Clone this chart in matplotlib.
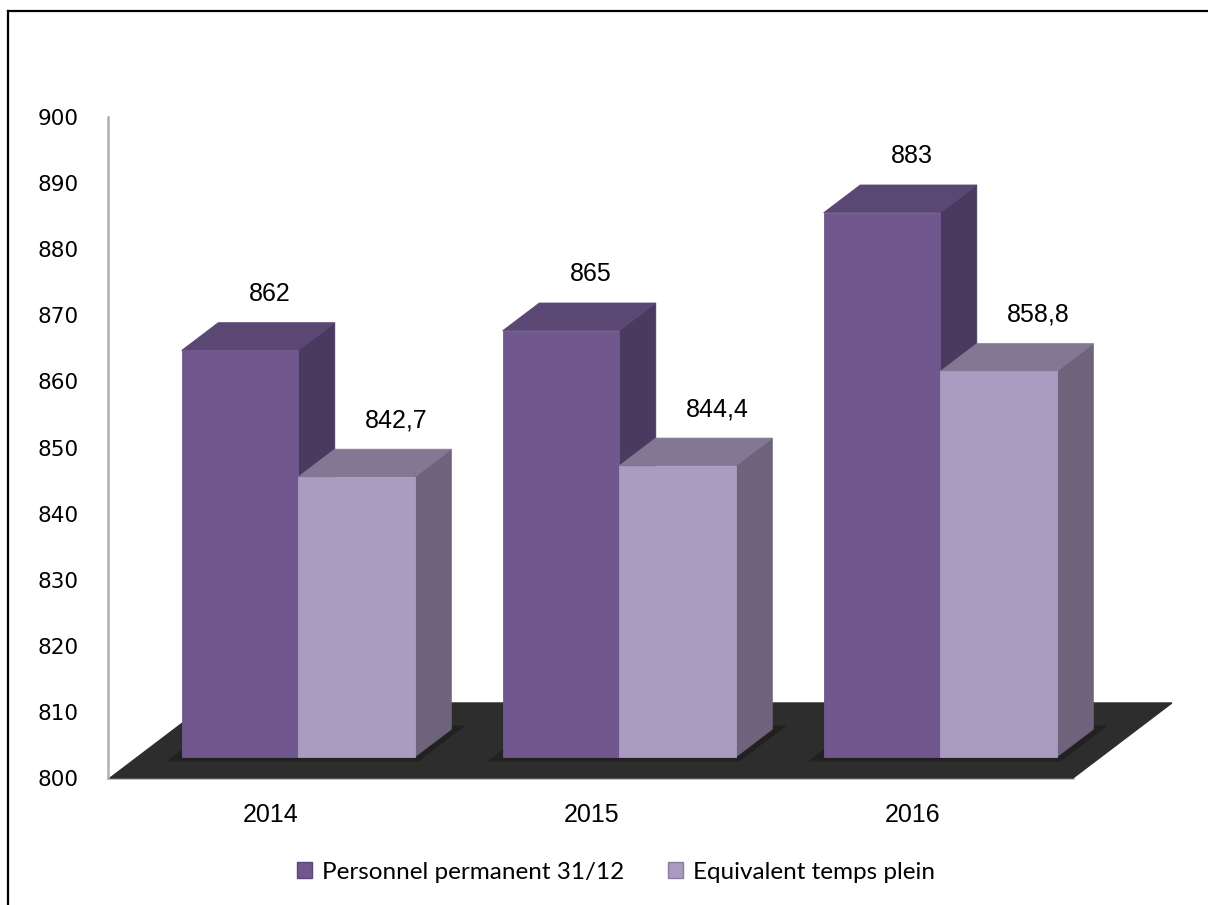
import matplotlib
matplotlib.use("Agg")
import matplotlib.pyplot as plt
from matplotlib.patches import Polygon, Patch
from matplotlib.lines import Line2D

years = ["2014", "2015", "2016"]
permanent = [862, 865, 883]
etp = [842.7, 844.4, 858.8]
permanent_labels = ["862", "865", "883"]
etp_labels = ["842,7", "844,4", "858,8"]
series_names = ["Personnel permanent 31/12", "Equivalent temps plein"]

# face colours: front, top, side
dark = ("#70588f", "#5a4774", "#4a3a60")
light = ("#aa9bc0", "#837893", "#6e637a")

BASE = 800
DX, DY = 0.308, 11.35     # full floor depth in data units
D0, D1 = 0.28, 0.65        # bar front / back depth
K = 0.992                  # front face height scale
W = 0.363                  # bar width


def proj(x, v, d):
    return (x + d * DX, BASE + (v - BASE) * K + d * DY)


def draw_bar(ax, x0, x1, v, cols):
    front, top, side = cols
    fbl, fbr = proj(x0, BASE, D0), proj(x1, BASE, D0)
    ftl, ftr = proj(x0, v, D0), proj(x1, v, D0)
    btl, btr = proj(x0, v, D1), proj(x1, v, D1)
    bbr = proj(x1, BASE, D1)
    ax.add_patch(Polygon([fbr, ftr, btr, bbr], closed=True, fc=side,
                         ec=side, lw=0.6, clip_on=False, zorder=3))
    ax.add_patch(Polygon([ftl, ftr, btr, btl], closed=True, fc=top,
                         ec=top, lw=0.6, clip_on=False, zorder=3))
    ax.add_patch(Polygon([fbl, fbr, ftr, ftl], closed=True, fc=front,
                         ec=front, lw=0.6, clip_on=False, zorder=3))
    return btl, btr


fig = plt.figure(figsize=(12.08, 9.05), dpi=100)
ax = fig.add_axes([108 / 1208, 1 - 778 / 905, 965 / 1208, 661 / 905])
ax.set_xlim(-0.5 - 2 / 321, 2.5)
ax.set_ylim(800, 900)

for s in ["top", "right"]:
    ax.spines[s].set_visible(False)
for s in ["left", "bottom"]:
    ax.spines[s].set_color("#b0b0b0")
    ax.spines[s].set_linewidth(1.8)
    ax.spines[s].set_zorder(1)

ax.set_yticks(range(800, 901, 10))
ax.tick_params(axis="y", length=0, pad=21, labelsize=15.5)
ax.set_xticks(range(len(years)))
ax.set_xticklabels(years, fontfamily="Liberation Sans", fontsize=18)
ax.tick_params(axis="x", length=0, pad=18)

# floor
floor = [proj(-0.5, BASE, 0), proj(2.5, BASE, 0),
         proj(2.5, BASE, 1), proj(-0.5, BASE, 1)]
ax.add_patch(Polygon(floor, closed=True, fc="#2d2d2d", ec="#2d2d2d",
                     clip_on=False, zorder=2))

for i in range(len(years)):
    # soft shadow under the pair of bars
    sh = [proj(i - W - 0.03, BASE, D0 - 0.06), proj(i + W + 0.03, BASE, D0 - 0.06),
          proj(i + W + 0.03, BASE, D1 + 0.05), proj(i - W - 0.03, BASE, D1 + 0.05)]
    ax.add_patch(Polygon(sh, closed=True, fc="#1e1e1e", ec="none",
                         alpha=0.8, clip_on=False, zorder=2))
    tl, tr = draw_bar(ax, i - W, i, permanent[i], dark)
    ax.text((tl[0] + tr[0]) / 2 - 0.02, tl[1] + 4.4, permanent_labels[i],
            ha="center", va="center", fontsize=18,
            fontfamily="Liberation Sans", zorder=5)
    tl, tr = draw_bar(ax, i, i + W, etp[i], light)
    ax.text((tl[0] + tr[0]) / 2 + 0.01, tl[1] + 4.4, etp_labels[i],
            ha="center", va="center", fontsize=18,
            fontfamily="Liberation Sans", zorder=5)

handles = [Patch(fc=dark[0], ec="#5a4774"), Patch(fc=light[0], ec="#8a7c9e")]
fig.legend(handles, series_names, loc="center",
           bbox_to_anchor=(616 / 1208, 1 - 872 / 905), ncol=2, frameon=False,
           prop={"family": "Lato", "size": 17.5}, handlelength=0.62,
           handleheight=0.62, handletextpad=0.4, columnspacing=1.8,
           borderpad=0, borderaxespad=0)

# outer frame (left and top edges visible)
fig.add_artist(Line2D([8 / 1208, 8 / 1208], [0, 1 - 11 / 905],
                      transform=fig.transFigure, color="black", lw=1.6))
fig.add_artist(Line2D([8 / 1208, 1], [1 - 11 / 905, 1 - 11 / 905],
                      transform=fig.transFigure, color="black", lw=1.6))

fig.savefig("out.png", dpi=100)
